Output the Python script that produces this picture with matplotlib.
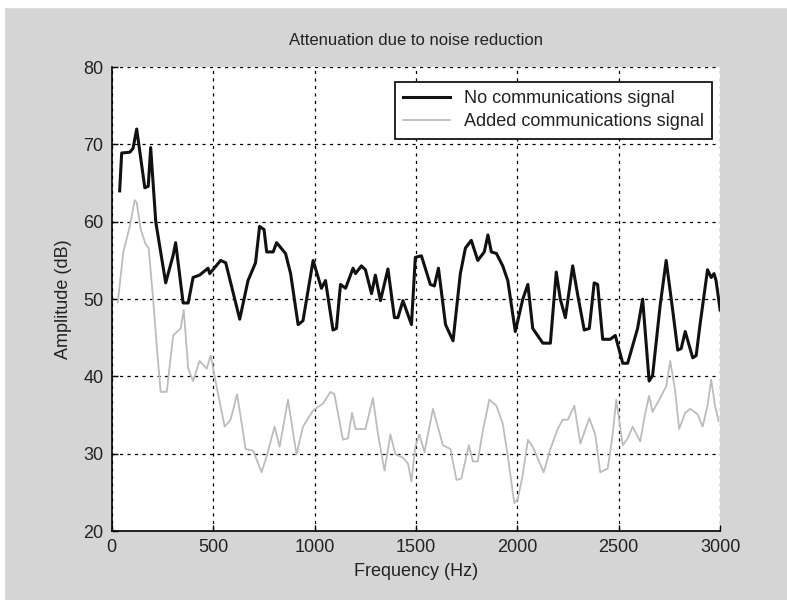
import matplotlib
matplotlib.use("Agg")
import matplotlib.pyplot as plt
from matplotlib.patches import Rectangle

# Black curve: no communications signal
freq_no = [39, 49, 89, 105, 123, 163, 180, 192, 217, 266, 303, 315, 352, 377, 401, 433,
           475, 483, 537, 562, 631, 672, 709, 729, 751, 764, 796, 813, 857, 882, 919, 943,
           993, 1034, 1054, 1091, 1108, 1128, 1153, 1190, 1202, 1231, 1251, 1281, 1300,
           1325, 1362, 1394, 1411, 1436, 1478, 1497, 1527, 1571, 1591, 1611, 1646, 1683,
           1719, 1744, 1773, 1805, 1837, 1855, 1872, 1897, 1928, 1953, 1990, 2027, 2052,
           2076, 2126, 2163, 2192, 2212, 2237, 2273, 2298, 2330, 2355, 2379, 2396, 2421,
           2458, 2483, 2520, 2544, 2593, 2618, 2650, 2667, 2704, 2734, 2766, 2791, 2808,
           2828, 2865, 2882, 2901, 2938, 2956, 2970, 2980, 3000]
amp_no = [64.0, 68.9, 69.0, 69.5, 72.0, 64.4, 64.6, 69.6, 60.0, 52.1, 55.7, 57.3, 49.5,
          49.5, 52.8, 53.1, 54.0, 53.3, 55.0, 54.7, 47.4, 52.4, 54.7, 59.4, 59.0, 56.1,
          56.1, 57.3, 55.9, 53.3, 46.7, 47.2, 55.0, 51.4, 52.4, 46.0, 46.2, 51.9, 51.4,
          54.0, 53.3, 54.3, 53.8, 50.7, 53.1, 49.8, 53.9, 47.6, 47.6, 49.8, 46.7, 55.4,
          55.6, 51.9, 51.7, 54.0, 46.7, 44.6, 53.3, 56.6, 57.6, 55.0, 56.1, 58.3, 56.1,
          55.9, 54.3, 52.4, 45.8, 50.0, 51.9, 46.2, 44.3, 44.3, 53.5, 50.0, 47.6, 54.3,
          50.5, 46.0, 46.2, 52.1, 51.9, 44.8, 44.8, 45.3, 41.7, 41.7, 46.2, 50.0, 39.4,
          40.1, 49.1, 55.0, 48.6, 43.4, 43.6, 45.8, 42.4, 42.7, 46.7, 53.8, 52.8, 53.3,
          52.4, 48.6]

# Gray curve: added communications signal
freq_add = [30, 57, 89, 113, 123, 143, 167, 182, 204, 222, 241, 271, 303, 340, 355, 377,
            401, 433, 468, 488, 517, 557, 586, 618, 635, 660, 697, 739, 764, 803, 828, 869,
            911, 943, 993, 1042, 1079, 1098, 1140, 1165, 1185, 1202, 1251, 1288, 1313, 1345,
            1374, 1399, 1436, 1461, 1478, 1497, 1517, 1542, 1584, 1633, 1670, 1700, 1724,
            1761, 1781, 1805, 1830, 1862, 1897, 1928, 1953, 1985, 2002, 2027, 2052, 2076,
            2130, 2163, 2199, 2224, 2249, 2281, 2311, 2355, 2384, 2409, 2446, 2470, 2488,
            2520, 2544, 2569, 2606, 2630, 2650, 2667, 2704, 2734, 2754, 2778, 2798, 2828,
            2852, 2889, 2914, 2938, 2956, 2975, 2993]
amp_add = [49.6, 56.1, 59.4, 62.8, 62.5, 59.0, 57.1, 56.6, 50.0, 43.9, 38.0, 38.0, 45.3,
           46.2, 48.6, 41.0, 39.4, 42.0, 41.0, 42.7, 38.7, 33.5, 34.4, 37.7, 34.9, 30.6,
           30.4, 27.6, 29.7, 33.5, 30.9, 37.0, 29.9, 33.5, 35.6, 36.5, 38.0, 37.7, 31.8,
           32.0, 35.3, 33.2, 33.2, 37.2, 32.5, 27.8, 32.5, 29.9, 29.5, 28.7, 26.4, 30.9,
           32.5, 30.2, 35.8, 31.1, 30.6, 26.6, 26.8, 31.1, 29.0, 29.0, 33.0, 37.0, 36.2,
           33.9, 29.7, 23.6, 24.1, 27.3, 31.8, 30.9, 27.6, 30.6, 33.2, 34.4, 34.4, 36.2,
           31.3, 34.6, 32.5, 27.6, 28.1, 32.5, 37.0, 31.1, 32.0, 33.5, 31.6, 35.1, 37.5,
           35.4, 37.2, 38.7, 42.0, 38.2, 33.2, 35.3, 35.8, 35.1, 33.5, 36.2, 39.6, 36.2,
           34.2]

x_ticks = [0, 500, 1000, 1500, 2000, 2500, 3000]
y_ticks = [20, 30, 40, 50, 60, 70, 80]

plt.rcParams['font.family'] = ['Liberation Sans', 'DejaVu Sans']

fig = plt.figure(figsize=(7.87, 6), dpi=100, facecolor='#d5d5d5')
# white scan margins at top and left
fig.patches.append(Rectangle((0, 0.988), 1, 0.012, transform=fig.transFigure,
                             color='white', zorder=-1))
fig.patches.append(Rectangle((0, 0), 0.005, 1, transform=fig.transFigure,
                             color='white', zorder=-1))

ax = fig.add_axes([0.142, 0.115, 0.773, 0.773])
ax.set_facecolor('white')

ax.plot(freq_no, amp_no, color='#111111', lw=2.2, label='No communications signal')
ax.plot(freq_add, amp_add, color='#bcbcbc', lw=1.3, label='Added communications signal')

ax.set_xlim(0, 3000)
ax.set_ylim(20, 80)
ax.set_xticks(x_ticks)
ax.set_yticks(y_ticks)
ax.tick_params(direction='in', length=4, width=1, labelsize=13, pad=6,
               labelcolor='#222222')
ax.grid(True, color='black', linestyle=(0, (2.5, 3.5)), linewidth=0.9)
ax.set_axisbelow(True)
for side in ['top', 'right']:
    ax.spines[side].set_visible(False)
for side in ['left', 'bottom']:
    ax.spines[side].set_linewidth(1.2)

ax.set_title('Attenuation due to noise reduction', fontsize=12, pad=16, color='#222222')
ax.set_xlabel('Frequency (Hz)', fontsize=13, labelpad=5, color='#222222')
ax.set_ylabel('Amplitude (dB)', fontsize=13, labelpad=8, color='#222222')

leg = ax.legend(loc='upper right', fontsize=13, frameon=True, fancybox=False,
                edgecolor='black', borderpad=0.45, labelspacing=0.35, handlelength=2.6,
                borderaxespad=0, bbox_to_anchor=(0.987, 0.968))
leg.get_frame().set_linewidth(1.2)
leg.get_frame().set_alpha(1)
for t in leg.get_texts():
    t.set_color('#222222')

fig.savefig('out.png', dpi=100, facecolor=fig.get_facecolor())
